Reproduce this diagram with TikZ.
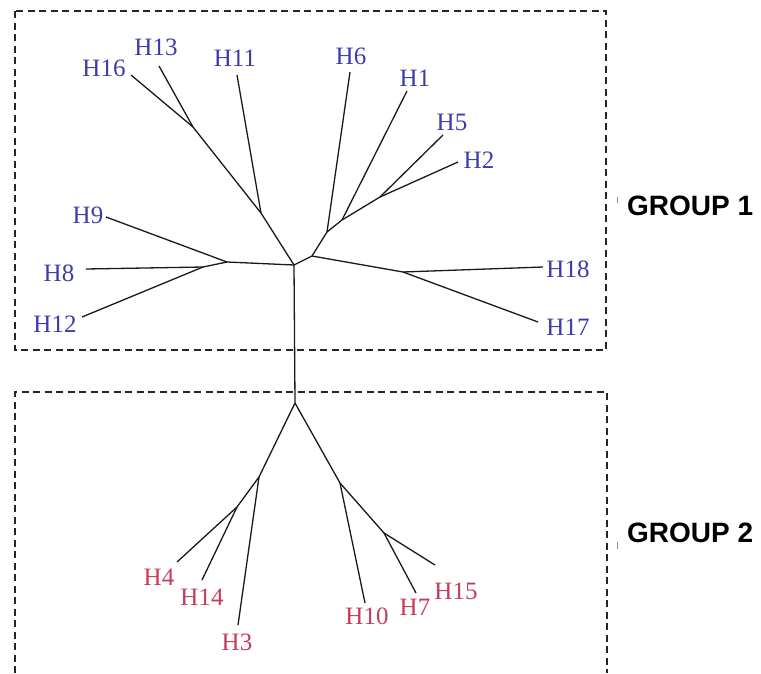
\documentclass[tikz,border=0pt]{standalone}
\usepackage{fontspec}
\setmainfont{Liberation Serif}
\newfontfamily\grpfont{Liberation Sans}
\definecolor{leafblue}{RGB}{60,60,172}
\definecolor{leafred}{RGB}{198,60,92}
\tikzset{
  branch/.style={line width=1.3pt, black!90},
  groupbox/.style={line width=1.1pt, dash pattern=on 7pt off 4.5pt, black!85},
  tick/.style={line width=1pt, black!45},
  bleaf/.style={text=leafblue, font=\fontsize{25}{25}\selectfont, inner sep=0pt},
  rleaf/.style={text=leafred, font=\fontsize{25}{25}\selectfont, inner sep=0pt},
  grouplabel/.style={font=\grpfont\bfseries\fontsize{28}{28}\selectfont, inner sep=0pt, anchor=west},
}
\begin{document}
\begin{tikzpicture}[x=1pt, y=-1pt]
\useasboundingbox (0,0) rectangle (761,673);

% group frames
\draw[groupbox] (15,11) rectangle (606,350);
\draw[groupbox] (15,673) -- (15,392) -- (607,392) -- (607,673);

% inner junctions, group 1
\coordinate (r1) at (294,265);
\coordinate (a) at (227,262);
\coordinate (b) at (203,267);
\coordinate (c) at (261,213);
\coordinate (d) at (193,127);
\coordinate (e) at (312,256);
\coordinate (f) at (327,232);
\coordinate (g) at (342,220);
\coordinate (i) at (380,197);
\coordinate (j) at (403,272);
% inner junctions, group 2
\coordinate (r2) at (295,403);
\coordinate (l) at (259,477);
\coordinate (m) at (237,507);
\coordinate (n) at (340,483);
\coordinate (o) at (384,533);

% leaf tips
\coordinate (t9) at (106,217);
\coordinate (t8) at (86,269);
\coordinate (t12) at (82,317);
\coordinate (t11) at (237,75);
\coordinate (t16) at (131,75);
\coordinate (t13) at (159,66);
\coordinate (t6) at (350,72);
\coordinate (t1) at (407,91);
\coordinate (t5) at (443,135);
\coordinate (t2) at (458,162);
\coordinate (t18) at (543,267);
\coordinate (t17) at (538,322);
\coordinate (t3) at (238,625);
\coordinate (t4) at (177,562);
\coordinate (t14) at (202,580);
\coordinate (t10) at (365,603);
\coordinate (t7) at (416,593);
\coordinate (t15) at (435,565);

% leaf labels
\node[bleaf] (H16) at (104,68) {H16};
\node[bleaf] (H13) at (156,47) {H13};
\node[bleaf] (H11) at (235,58) {H11};
\node[bleaf] (H6) at (351,56) {H6};
\node[bleaf] (H1) at (415,78) {H1};
\node[bleaf] (H5) at (452,122) {H5};
\node[bleaf] (H2) at (479,160) {H2};
\node[bleaf] (H9) at (88,215) {H9};
\node[bleaf] (H8) at (59,273) {H8};
\node[bleaf] (H12) at (55,324) {H12};
\node[bleaf] (H18) at (568,269) {H18};
\node[bleaf] (H17) at (568,327) {H17};
\node[rleaf] (H4) at (159,577) {H4};
\node[rleaf] (H14) at (202,597) {H14};
\node[rleaf] (H3) at (237,642) {H3};
\node[rleaf] (H10) at (367,616) {H10};
\node[rleaf] (H7) at (415,607) {H7};
\node[rleaf] (H15) at (456,591) {H15};

% group 1 branches
\draw[branch] (r1) -- (r2);
\draw[branch] (r1) -- (a);
\draw[branch] (a) -- (t9);
\draw[branch] (a) -- (b);
\draw[branch] (b) -- (t8);
\draw[branch] (b) -- (t12);
\draw[branch] (r1) -- (c);
\draw[branch] (c) -- (t11);
\draw[branch] (c) -- (d);
\draw[branch] (d) -- (t16);
\draw[branch] (d) -- (t13);
\draw[branch] (r1) -- (e);
\draw[branch] (e) -- (f);
\draw[branch] (f) -- (t6);
\draw[branch] (f) -- (g);
\draw[branch] (g) -- (t1);
\draw[branch] (g) -- (i);
\draw[branch] (i) -- (t5);
\draw[branch] (i) -- (t2);
\draw[branch] (e) -- (j);
\draw[branch] (j) -- (t18);
\draw[branch] (j) -- (t17);

% group 2 branches
\draw[branch] (r2) -- (l);
\draw[branch] (l) -- (t3);
\draw[branch] (l) -- (m);
\draw[branch] (m) -- (t4);
\draw[branch] (m) -- (t14);
\draw[branch] (r2) -- (n);
\draw[branch] (n) -- (t10);
\draw[branch] (n) -- (o);
\draw[branch] (o) -- (t7);
\draw[branch] (o) -- (t15);

% group captions with their small ticks
\node[grouplabel] (G1) at (627,206) {GROUP 1};
\node[grouplabel] (G2) at (627,533) {GROUP 2};
\draw[tick] (617,197) -- (617,203);
\draw[tick] (617,542) -- (617,549);
\end{tikzpicture}
\end{document}
